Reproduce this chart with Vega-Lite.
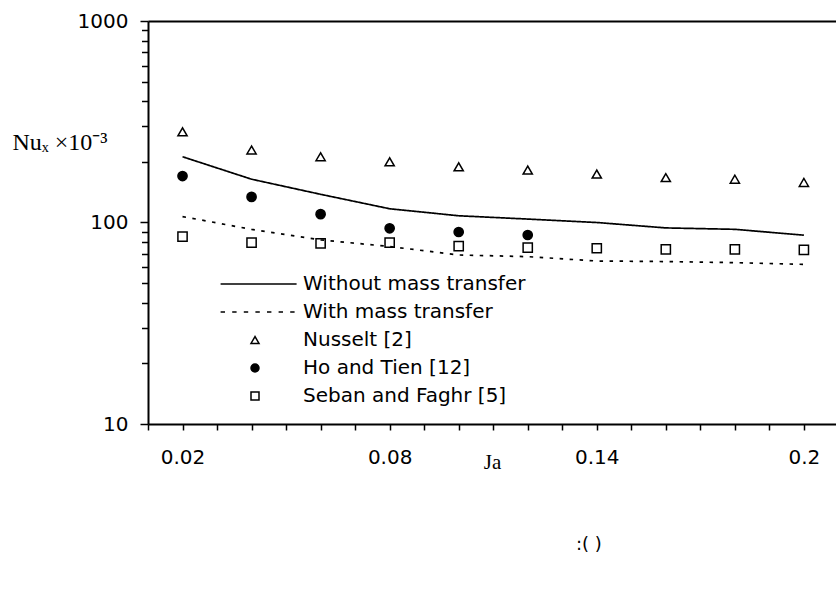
{
  "$schema": "https://vega.github.io/schema/vega-lite/v6.json",
  "width": 688,
  "height": 403,
  "autosize": "none",
  "padding": {"left": 148, "top": 21, "right": 0, "bottom": 168},
  "background": "white",
  "title": {"text": ":( )", "orient": "bottom", "anchor": "start", "frame": "group", "dx": 428, "offset": 64, "font": "DejaVu Sans", "fontSize": 18, "fontWeight": "normal", "color": "black"},
  "data": {"values": [
    {"Ja": 0.02, "Nu": 212, "series": "Without mass transfer"},
    {"Ja": 0.04, "Nu": 164, "series": "Without mass transfer"},
    {"Ja": 0.06, "Nu": 138, "series": "Without mass transfer"},
    {"Ja": 0.08, "Nu": 117, "series": "Without mass transfer"},
    {"Ja": 0.10, "Nu": 108, "series": "Without mass transfer"},
    {"Ja": 0.12, "Nu": 104, "series": "Without mass transfer"},
    {"Ja": 0.14, "Nu": 100, "series": "Without mass transfer"},
    {"Ja": 0.16, "Nu": 94, "series": "Without mass transfer"},
    {"Ja": 0.18, "Nu": 92.5, "series": "Without mass transfer"},
    {"Ja": 0.20, "Nu": 86.5, "series": "Without mass transfer"},
    {"Ja": 0.02, "Nu": 107, "series": "With mass transfer"},
    {"Ja": 0.04, "Nu": 92.5, "series": "With mass transfer"},
    {"Ja": 0.06, "Nu": 82, "series": "With mass transfer"},
    {"Ja": 0.08, "Nu": 76, "series": "With mass transfer"},
    {"Ja": 0.10, "Nu": 69, "series": "With mass transfer"},
    {"Ja": 0.12, "Nu": 67.7, "series": "With mass transfer"},
    {"Ja": 0.14, "Nu": 64.4, "series": "With mass transfer"},
    {"Ja": 0.16, "Nu": 64, "series": "With mass transfer"},
    {"Ja": 0.18, "Nu": 63.2, "series": "With mass transfer"},
    {"Ja": 0.20, "Nu": 62, "series": "With mass transfer"},
    {"Ja": 0.02, "Nu": 282, "series": "Nusselt [2]"},
    {"Ja": 0.04, "Nu": 229, "series": "Nusselt [2]"},
    {"Ja": 0.06, "Nu": 212, "series": "Nusselt [2]"},
    {"Ja": 0.08, "Nu": 200, "series": "Nusselt [2]"},
    {"Ja": 0.10, "Nu": 189, "series": "Nusselt [2]"},
    {"Ja": 0.12, "Nu": 182, "series": "Nusselt [2]"},
    {"Ja": 0.14, "Nu": 174, "series": "Nusselt [2]"},
    {"Ja": 0.16, "Nu": 167, "series": "Nusselt [2]"},
    {"Ja": 0.18, "Nu": 164, "series": "Nusselt [2]"},
    {"Ja": 0.20, "Nu": 158, "series": "Nusselt [2]"},
    {"Ja": 0.02, "Nu": 170, "series": "Ho and Tien [12]"},
    {"Ja": 0.04, "Nu": 134, "series": "Ho and Tien [12]"},
    {"Ja": 0.06, "Nu": 110, "series": "Ho and Tien [12]"},
    {"Ja": 0.08, "Nu": 93.6, "series": "Ho and Tien [12]"},
    {"Ja": 0.10, "Nu": 89.7, "series": "Ho and Tien [12]"},
    {"Ja": 0.12, "Nu": 86.7, "series": "Ho and Tien [12]"},
    {"Ja": 0.02, "Nu": 85, "series": "Seban and Faghr [5]"},
    {"Ja": 0.04, "Nu": 79.4, "series": "Seban and Faghr [5]"},
    {"Ja": 0.06, "Nu": 78.8, "series": "Seban and Faghr [5]"},
    {"Ja": 0.08, "Nu": 79.4, "series": "Seban and Faghr [5]"},
    {"Ja": 0.10, "Nu": 76.4, "series": "Seban and Faghr [5]"},
    {"Ja": 0.12, "Nu": 75, "series": "Seban and Faghr [5]"},
    {"Ja": 0.14, "Nu": 74.5, "series": "Seban and Faghr [5]"},
    {"Ja": 0.16, "Nu": 73.6, "series": "Seban and Faghr [5]"},
    {"Ja": 0.18, "Nu": 73.6, "series": "Seban and Faghr [5]"},
    {"Ja": 0.20, "Nu": 73.1, "series": "Seban and Faghr [5]"}
  ]},
  "layer": [
    {
      "transform": [{"filter": {"field": "series", "oneOf": ["Without mass transfer", "With mass transfer"]}}],
      "mark": {"type": "line", "color": "black", "strokeWidth": 1.7},
      "encoding": {
        "x": {"field": "Ja", "type": "quantitative", "scale": {"domain": [0.01, 0.2093], "nice": false, "zero": false},
              "axis": {"orient": "top", "ticks": false, "labels": false, "grid": false, "title": null, "domain": true, "domainColor": "black", "domainWidth": 2}},
        "y": {"field": "Nu", "type": "quantitative", "scale": {"type": "log", "domain": [10, 1000], "nice": false},
              "axis": {"orient": "left", "values": [10, 20, 30, 40, 50, 60, 70, 80, 90, 100, 200, 300, 400, 500, 600, 700, 800, 900, 1000],
                       "labelExpr": "indexof([10, 100, 1000], datum.value) >= 0 ? format(datum.value, 'd') : ''",
                       "tickSize": {"condition": {"test": "indexof([10, 100, 1000], datum.value) >= 0", "value": 8}, "value": 6.5},
                       "labelPadding": 12, "labelOverlap": false, "labelBound": false, "labelFlush": false,
                       "title": "Nuₓ ×10⁻³", "titleAngle": 0, "titleAlign": "left", "titleBaseline": "alphabetic",
                       "titleX": -136, "titleY": 128, "titleFont": "Liberation Serif", "titleFontSize": 24, "titleFontWeight": "normal"}},
        "strokeDash": {"field": "series", "type": "nominal", "scale": {"domain": ["Without mass transfer", "With mass transfer"], "range": [[1, 0], [3.5, 6.5]]}, "legend": null}
      }
    },
    {
      "transform": [{"filter": {"field": "series", "oneOf": ["Nusselt [2]", "Ho and Tien [12]", "Seban and Faghr [5]"]}}],
      "mark": {"type": "point", "filled": false, "stroke": "black", "strokeWidth": 1.5, "size": 85, "opacity": 1},
      "encoding": {
        "x": {"field": "Ja", "type": "quantitative", "scale": {"domain": [0.01, 0.2093], "nice": false, "zero": false},
              "axis": {"orient": "bottom", "values": [0.01, 0.02, 0.03, 0.04, 0.05, 0.06, 0.07, 0.08, 0.09, 0.1, 0.11, 0.12, 0.13, 0.14, 0.15, 0.16, 0.17, 0.18, 0.19, 0.2],
                       "labelExpr": "abs(datum.value-0.02)<1e-6 ? '0.02' : abs(datum.value-0.08)<1e-6 ? '0.08' : abs(datum.value-0.14)<1e-6 ? '0.14' : abs(datum.value-0.2)<1e-6 ? '0.2' : ''",
                       "tickSize": 6, "labelPadding": 17, "labelFlush": false, "labelOverlap": false, "labelBound": false,
                       "title": "Ja", "titleFont": "Liberation Serif", "titleFontSize": 21, "titleFontWeight": "normal",
                       "titleX": 344, "titleY": 44, "titleBaseline": "alphabetic", "titleAlign": "center"}},
        "y": {"field": "Nu", "type": "quantitative", "scale": {"type": "log", "domain": [10, 1000], "nice": false},
              "axis": {"orient": "left", "values": [10, 20, 30, 40, 50, 60, 70, 80, 90, 100, 200, 300, 400, 500, 600, 700, 800, 900, 1000],
                       "labelExpr": "indexof([10, 100, 1000], datum.value) >= 0 ? format(datum.value, 'd') : ''",
                       "tickSize": {"condition": {"test": "indexof([10, 100, 1000], datum.value) >= 0", "value": 8}, "value": 6.5},
                       "labelPadding": 12, "labelOverlap": false, "labelBound": false, "labelFlush": false,
                       "title": "Nuₓ ×10⁻³", "titleAngle": 0, "titleAlign": "left", "titleBaseline": "alphabetic",
                       "titleX": -136, "titleY": 128, "titleFont": "Liberation Serif", "titleFontSize": 24, "titleFontWeight": "normal"}},
        "shape": {"field": "series", "type": "nominal",
                  "scale": {"domain": ["Without mass transfer", "With mass transfer", "Nusselt [2]", "Ho and Tien [12]", "Seban and Faghr [5]"],
                            "range": ["M-8.6,0H10.4", "M-8.6,0H-7.5M-5.7,0H-4.6M-2.8,0H-1.7M0.1,0H1.2M3,0H4.1M5.9,0H7M8.8,0H9.9", "triangle-up", "circle", "square"]},
                  "legend": {"title": null, "orient": "none", "legendX": 97, "legendY": 253, "padding": 0, "symbolSize": 64, "symbolStrokeWidth": 1.5,
                             "labelFont": "DejaVu Sans", "labelFontSize": 20, "labelColor": "black", "labelOffset": 38, "rowPadding": 8, "labelLimit": 400,
                             "encode": {"symbols": {"fill": {"scale": "fill", "field": "value"}, "stroke": {"value": "black"}, "strokeWidth": {"value": 1.5}, "strokeOpacity": {"value": 1}, "opacity": {"value": 1}}}}},
        "fill": {"field": "series", "type": "nominal",
                 "scale": {"domain": ["Without mass transfer", "With mass transfer", "Nusselt [2]", "Ho and Tien [12]", "Seban and Faghr [5]"],
                           "range": ["transparent", "transparent", "transparent", "black", "transparent"]},
                 "legend": null}
      }
    }
  ],
  "config": {
    "view": {"stroke": null},
    "axis": {"domainColor": "black", "domainWidth": 2, "tickColor": "black", "tickWidth": 1.5, "labelColor": "black", "labelFont": "DejaVu Sans", "labelFontSize": 20, "titleColor": "black", "grid": false}
  }
}
